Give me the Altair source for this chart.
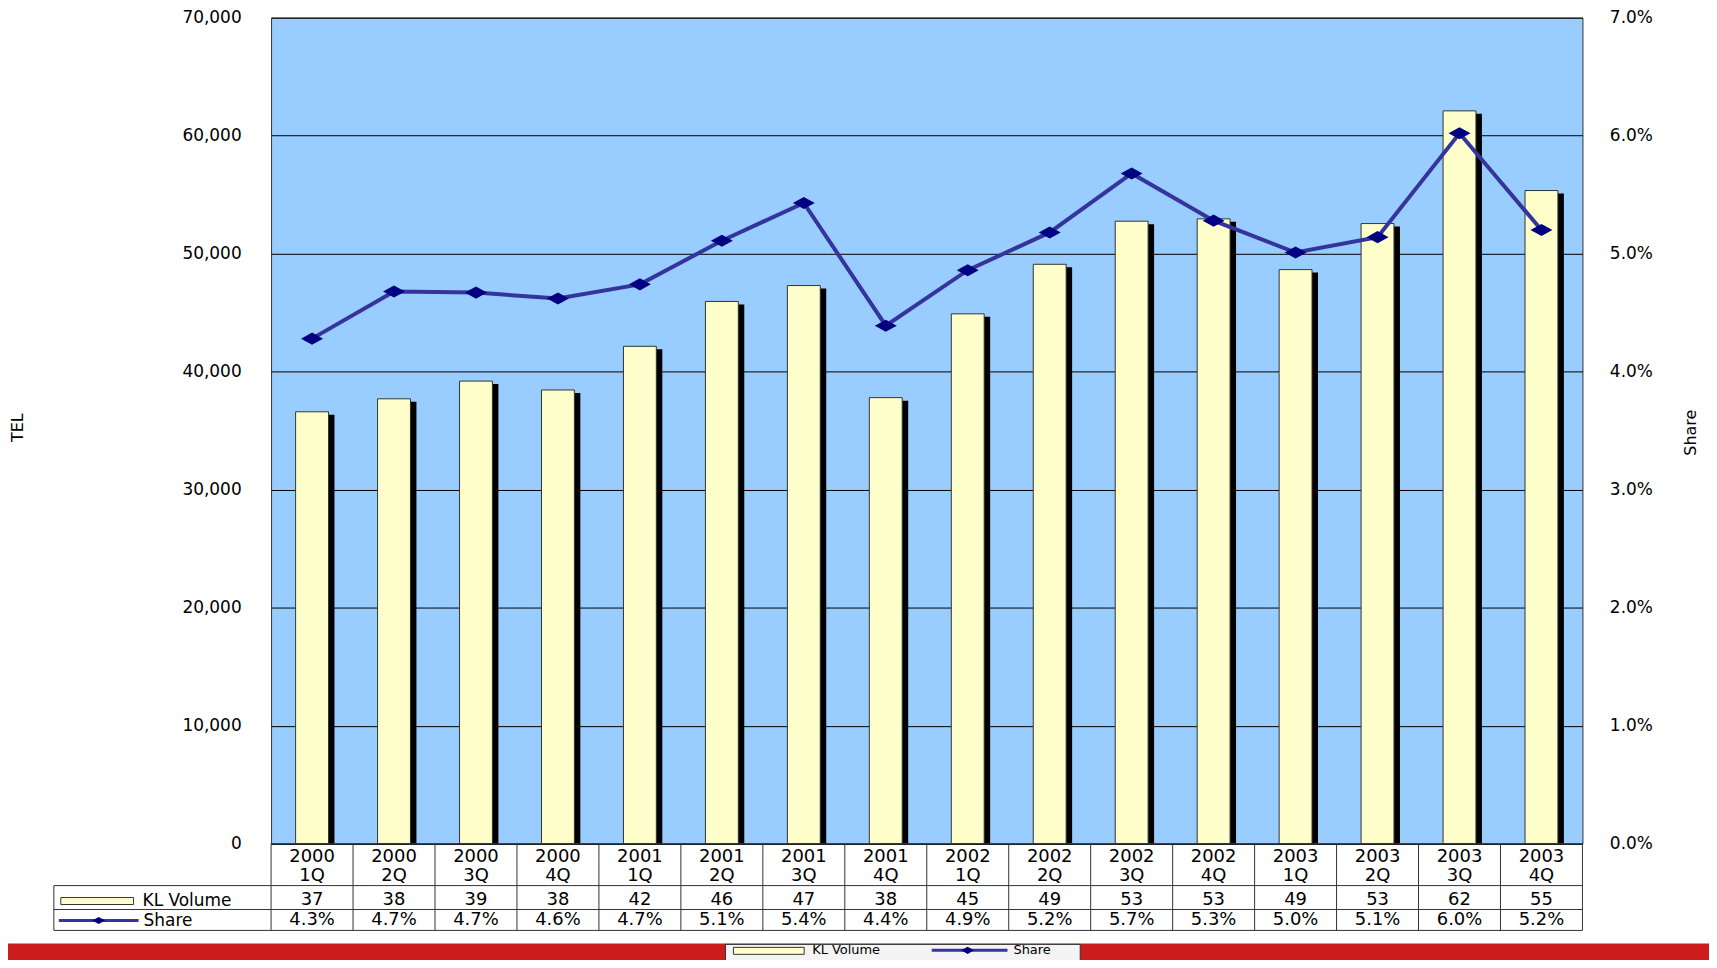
import altair as alt
import pandas as pd

# ---------------- data ----------------
years = ["2000"] * 4 + ["2001"] * 4 + ["2002"] * 4 + ["2003"] * 4
quarters = ["1Q", "2Q", "3Q", "4Q"] * 4
kl_volume = [36600, 37700, 39200, 38450, 42150, 45950, 47300, 37800,
             44900, 49100, 52750, 52950, 48650, 52550, 62100, 55350]
share = [0.0428, 0.0468, 0.0467, 0.0462, 0.0474, 0.0511, 0.0543, 0.0439,
         0.0486, 0.0518, 0.0568, 0.0528, 0.0501, 0.0514, 0.0602, 0.0520]
vol_table = ["37", "38", "39", "38", "42", "46", "47", "38",
             "45", "49", "53", "53", "49", "53", "62", "55"]
share_table = ["4.3%", "4.7%", "4.7%", "4.6%", "4.7%", "5.1%", "5.4%", "4.4%",
               "4.9%", "5.2%", "5.7%", "5.3%", "5.0%", "5.1%", "6.0%", "5.2%"]
vol_ticks = [0, 10000, 20000, 30000, 40000, 50000, 60000, 70000]
share_ticks = [0.0, 0.01, 0.02, 0.03, 0.04, 0.05, 0.06, 0.07]
series_names = ["KL Volume", "Share"]
left_title = "TEL"
right_title = "Share"

cats = [f"{y} {q}" for y, q in zip(years, quarters)]
df = pd.DataFrame({
    "cat": cats, "year": years, "q": quarters, "vol": kl_volume,
    "share": share, "vol_lbl": vol_table, "share_lbl": share_table,
})
one = pd.DataFrame({"k": [0]})

# ---------------- style ----------------
W, H = 1316, 829
FONT = "DejaVu Sans"
BAR_FILL = "#FFFFCC"
EDGE = "#333333"
LINE_C = "#34349C"
MARK_C = "#000080"
RED = "#CC1C1C"
DIAMOND = "M-1,0L0,-0.55L1,0L0,0.55Z"

X = alt.X("cat:N", sort=cats, scale=alt.Scale(paddingInner=0, paddingOuter=0), axis=None)

shadow = alt.Chart(df).mark_bar(color="black", size=33, xOffset=6, yOffset=3, clip=True).encode(
    x=X,
    y=alt.Y("vol:Q", scale=alt.Scale(domain=[0, 70000], nice=False), axis=None),
)

bars = alt.Chart(df).mark_bar(fill=BAR_FILL, stroke=EDGE, strokeWidth=1, size=33).encode(
    x=X,
    y=alt.Y("vol:Q", scale=alt.Scale(domain=[0, 70000], nice=False),
            axis=alt.Axis(orient="left", values=vol_ticks, format=",.0f", grid=True,
                          gridColor="black", gridWidth=1, gridOpacity=1, domain=False,
                          ticks=True, tickSize=0, labelPadding=30, title=left_title,
                          titleAngle=270, titleX=-254, titleY=411, titleAlign="center",
                          titleBaseline="middle")),
)

line = alt.Chart(df).mark_line(color=LINE_C, strokeWidth=4).encode(
    x=X,
    y=alt.Y("share:Q", scale=alt.Scale(domain=[0, 0.07], nice=False), axis=None),
)

points = alt.Chart(df).mark_point(shape=DIAMOND, filled=True, size=484, color=MARK_C, opacity=1).encode(
    x=X,
    y=alt.Y("share:Q", scale=alt.Scale(domain=[0, 0.07], nice=False),
            axis=alt.Axis(orient="right", values=share_ticks, format=".1%", grid=False,
                          domain=False, ticks=True, tickSize=0, labelPadding=27,
                          title=right_title, titleAngle=270, titleX=108, titleY=416,
                          titleAlign="center", titleBaseline="middle")),
)

# ---------------- data table under the plot ----------------
TXT = dict(font=FONT, fontSize=18, color="black", baseline="middle", align="center")
t_year = alt.Chart(df).mark_text(**TXT).encode(x=X, y=alt.value(842), text="year:N")
t_q = alt.Chart(df).mark_text(**TXT).encode(x=X, y=alt.value(861), text="q:N")
t_vol = alt.Chart(df).mark_text(**TXT).encode(x=X, y=alt.value(885), text="vol_lbl:N")
t_share = alt.Chart(df).mark_text(**TXT).encode(x=X, y=alt.value(906), text="share_lbl:N")

vsep = alt.Chart(df).mark_rule(color=EDGE, strokeWidth=1).encode(
    x=alt.X("cat:N", sort=cats, bandPosition=0,
            scale=alt.Scale(paddingInner=0, paddingOuter=0), axis=None),
    y=alt.value(829), y2=alt.value(916),
)


def rule(x1, x2, y1, y2, color=EDGE, w=1):
    return alt.Chart(one).mark_rule(color=color, strokeWidth=w).encode(
        x=alt.value(x1), x2=alt.value(x2), y=alt.value(y1), y2=alt.value(y2))


def box(x1, x2, y1, y2, fill, stroke=None):
    kw = dict(fill=fill)
    if stroke:
        kw.update(stroke=stroke, strokeWidth=1)
    return alt.Chart(one).mark_rect(**kw).encode(
        x=alt.value(x1), x2=alt.value(x2), y=alt.value(y1), y2=alt.value(y2))


def label(x, y, txt, size=17, align="left"):
    return alt.Chart(one).mark_text(font=FONT, fontSize=size, color="black",
                                    align=align, baseline="middle", text=txt).encode(
        x=alt.value(x), y=alt.value(y))


def diamond(x, y, size):
    return alt.Chart(one).mark_point(shape=DIAMOND, filled=True, size=size,
                                     color=MARK_C, opacity=1).encode(
        x=alt.value(x), y=alt.value(y))


table_lines = [
    rule(-218, W, 871, 871), rule(-218, W, 895, 895), rule(-218, W, 916, 916),
    rule(-218, -218, 871, 916), rule(W, W, 829, 916), rule(0, W, 829, 829),
]
table_legend = [
    box(-211, -138, 883, 890, BAR_FILL, EDGE),
    label(-129, 886, series_names[0]),
    rule(-213, -133, 906, 906, LINE_C, 3),
    diamond(-173, 906, 169),
    label(-128, 907, series_names[1]),
]

# ---------------- bottom red band and legend ----------------
bottom = [
    box(-264, W + 127, 929, 960, RED),
    box(456, 812, 930, 960, "#F4F4F4", EDGE),
    box(464, 535, 933, 940, BAR_FILL, EDGE),
    label(543, 936, series_names[0], size=13),
    rule(663, 739, 936, 936, LINE_C, 3),
    diamond(699, 936, 169),
    label(745, 936, series_names[1], size=13),
]

chart = alt.layer(
    shadow, bars, line, points, t_year, t_q, t_vol, t_share, vsep,
    *table_lines, *table_legend, *bottom,
).resolve_scale(y="independent").properties(
    width=W, height=H,
    autosize=alt.AutoSizeParams(type="none"),
    padding={"left": 264, "top": 8, "right": 127, "bottom": 115},
    background="white",
).configure_view(
    fill="#99CCFF", stroke="#333333", strokeWidth=1,
).configure_axis(
    labelFont=FONT, labelFontSize=17, labelColor="black",
    titleFont=FONT, titleFontSize=16, titleFontWeight="normal", titleColor="black",
)

chart.save("out.html", embed_options={"renderer": "svg", "actions": False})
